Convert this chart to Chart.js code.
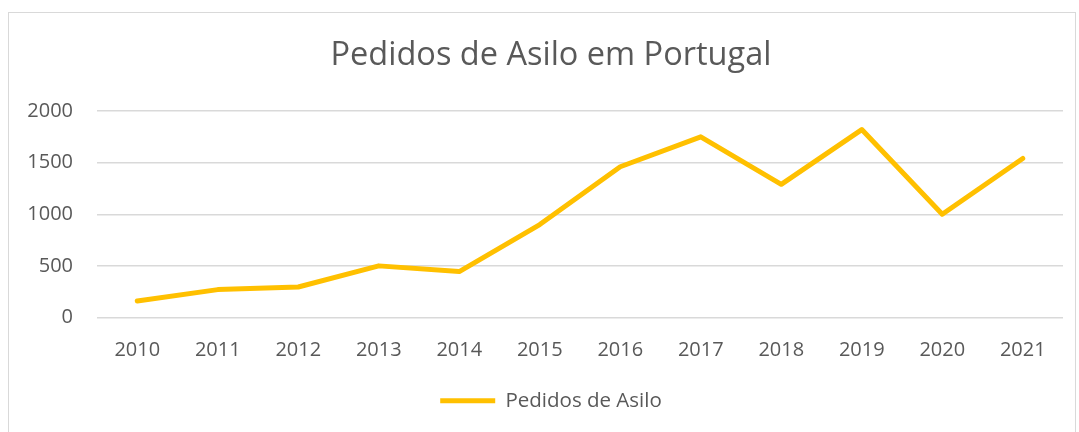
<!DOCTYPE html>
<html>
<head>
<meta charset="utf-8">
<script src="https://cdn.jsdelivr.net/npm/chart.js@4"></script>
<style>
  body { margin: 0; background: #fff; }
  #frame {
    position: absolute; left: 8px; top: 12px;
    width: 1066px; height: 440px;
    border: 1px solid #d9d9d9;
  }
  #wrap { position: absolute; left: 0; top: 0; width: 1079px; height: 432px; }
</style>
</head>
<body>
<div id="frame"></div>
<div id="wrap"><canvas id="main-chart"></canvas></div>
<script>
// data
const years = ["2010", "2011", "2012", "2013", "2014", "2015", "2016", "2017", "2018", "2019", "2020", "2021"];
const pedidos = [160, 270, 295, 500, 445, 900, 1460, 1750, 1290, 1820, 1000, 1540];
const series_name = "Pedidos de Asilo";
const chart_title = "Pedidos de Asilo em Portugal";

const text_color = "#595959";
const grid_color = "#d9d9d9";
const line_color = "#ffc000";
const font_family = "'Open Sans', Lato, sans-serif";

const ctx = document.getElementById("main-chart").getContext('2d');

// title and legend sit centred on the frame, not on the plot
const shift_blocks = {
    id: 'shift_blocks',
    afterLayout(chart) {
        chart.titleBlock.left += 39;
        chart.legend.left += 39;
    }
};

new Chart(ctx, {
    type: 'line',
    data: {
        labels: years,
        datasets: [{
            label: series_name,
            data: pedidos,
            borderColor: line_color,
            backgroundColor: line_color,
            borderWidth: 5,
            borderCapStyle: 'round',
            borderJoinStyle: 'round',
            pointRadius: 0,
            pointHoverRadius: 0,
            tension: 0,
            fill: false
        }]
    },
    options: {
        responsive: true,
        maintainAspectRatio: false,
        animation: false,
        layout: { padding: { left: 0, right: 16, top: 0, bottom: 11 } },
        plugins: {
            title: {
                display: true,
                text: chart_title,
                color: text_color,
                font: { family: font_family, size: 32.5, weight: 'normal' },
                padding: { top: 36, bottom: 36 }
            },
            legend: {
                position: 'bottom',
                labels: {
                    color: text_color,
                    font: { family: font_family, size: 20.5 },
                    usePointStyle: true,
                    pointStyle: 'line',
                    pointStyleWidth: 55,
                    boxWidth: 55,
                    boxHeight: 10,
                    padding: 15
                }
            },
            tooltip: { enabled: false }
        },
        scales: {
            x: {
                offset: true,
                grid: { display: false },
                border: { display: false },
                ticks: {
                    color: text_color,
                    font: { family: font_family, size: 20 },
                    maxRotation: 0,
                    padding: 13
                }
            },
            y: {
                min: 0,
                max: 2000,
                grid: { color: grid_color, lineWidth: 1.5, drawTicks: false },
                border: { display: false },
                ticks: {
                    stepSize: 500,
                    color: text_color,
                    font: { family: font_family, size: 20 },
                    padding: 24,
                    callback: function(value) { return String(value); }
                },
                afterFit: function(scale) { scale.width = 97; }
            }
        }
    },
    plugins: [shift_blocks]
});
</script>
</body>
</html>
